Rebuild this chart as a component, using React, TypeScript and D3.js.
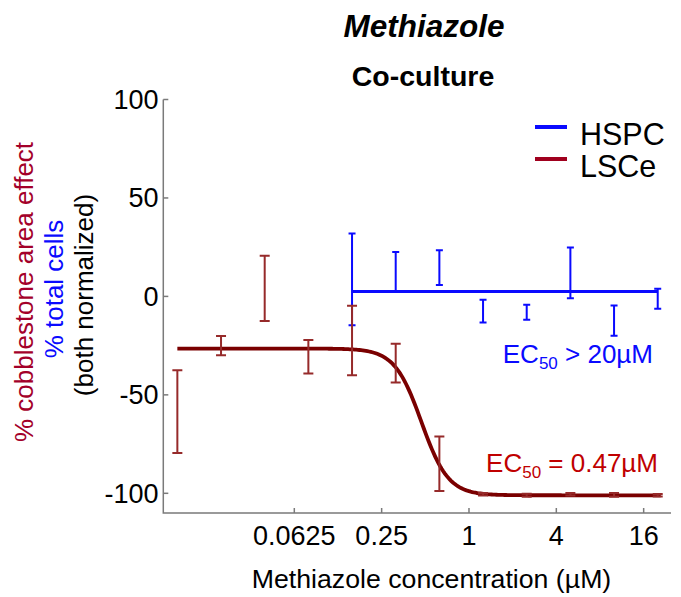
import React from "react";
import * as d3 from "d3";

// Two-fold dilution series (µM)
const doses = [20 / 2048, 20 / 1024, 20 / 512, 20 / 256, 20 / 128, 20 / 64, 20 / 32, 20 / 16, 20 / 8, 20 / 4, 20 / 2, 20];

// LSCe: % cobblestone area effect (mean ± error)
const lsceMean = [-58.5, -25, 4.1, -30.7, -22.4, -33.9, -85, -100.5, -101, -100.5, -100.8, -101];
const lsceErr = [21, 4.9, 16.6, 8.5, 17.7, 9.8, 13.8, 0.6, 0.8, 0.6, 1, 0.6];

// HSPC: % total cells, measured from 0.156 µM upward
const hspcDoses = doses.slice(4);
const hspcMean = [8.6, 12.5, 14.6, -7.5, -8, 12, -12.3, -1.2];
const hspcErr = [23.3, 10, 8.8, 5.8, 3.8, 12.9, 7.7, 5.1];

// Four-parameter logistic fits
const lsceFit = { top: -26.5, bottom: -101, ec50: 0.47, hill: 4.7 };
const hspcLevel = 2.5;

const xTicks = [0.0625, 0.25, 1, 4, 16];
const xTickLabels = ["0.0625", "0.25", "1", "4", "16"];
const yTicks = [-100, -50, 0, 50, 100];

const FONT = "'Liberation Sans', Arial, Helvetica, sans-serif";
const BLUE = "#0a0aff";
const DARK_RED = "#7a0000";
const BAR_RED = "#962a2a";
const AXIS = "#7a7a7a";

export default function App() {
  const x = d3.scaleLog().base(2).domain([2 ** -7, 2 ** 4.626]).range([163.3, 671]);
  const y = d3.scaleLinear().domain([-110, 100]).range([513, 99.5]);

  const logistic = (c: number) =>
    lsceFit.top + (lsceFit.bottom - lsceFit.top) / (1 + Math.pow(lsceFit.ec50 / c, lsceFit.hill));

  const curveXs = d3.range(0, 301).map((i) => {
    const lo = Math.log2(doses[0]);
    const hi = Math.log2(21);
    return 2 ** (lo + ((hi - lo) * i) / 300);
  });
  const curveLine = d3
    .line<number>()
    .x((c) => x(c))
    .y((c) => y(logistic(c)))
    .curve(d3.curveLinear);

  const errBar = (cx: number, m: number, e: number, cap: number) => {
    const px = x(cx);
    const t = y(m + e);
    const b = y(m - e);
    return `M${px},${t}V${b}M${px - cap / 2},${t}H${px + cap / 2}M${px - cap / 2},${b}H${px + cap / 2}`;
  };

  const [x0, x1] = x.range();
  const [yb, yt] = y.range();

  return (
    <svg
      width={681}
      height={597}
      style={{ position: "absolute", left: 0, top: 0, background: "#fff" }}
      fontFamily={FONT}
    >
      <rect width={681} height={597} fill="#fff" />

      {/* titles */}
      <text x={424} y={37} textAnchor="middle" fontSize={31.5} fontWeight="bold" fontStyle="italic">
        Methiazole
      </text>
      <text x={423} y={86} textAnchor="middle" fontSize={28.5} fontWeight="bold">
        Co-culture
      </text>

      {/* axes */}
      <g stroke={AXIS} strokeWidth={1.5} fill="none">
        <path d={`M${x0},${yt}V${yb}H${x1}`} />
        {yTicks.map((v) => (
          <path key={v} d={`M${x0},${y(v)}h5`} />
        ))}
        {xTicks.map((v) => (
          <path key={v} d={`M${x(v)},${yb}v-5`} />
        ))}
      </g>
      {yTicks.map((v) => (
        <text key={v} x={158.5} y={y(v)} dy="0.35em" textAnchor="end" fontSize={27} fill="#000">
          {v}
        </text>
      ))}
      {xTicks.map((v, i) => (
        <text key={v} x={x(v)} y={545} textAnchor="middle" fontSize={27} fill="#000">
          {xTickLabels[i]}
        </text>
      ))}

      {/* axis titles */}
      <text x={431.5} y={588} textAnchor="middle" fontSize={26.7} fill="#000">
        Methiazole concentration (µM)
      </text>
      <g fontSize={26} textAnchor="middle">
        <text transform="translate(33,292) rotate(-90)" fill="#a3002a">
          % cobblestone area effect
        </text>
        <text transform="translate(63,289) rotate(-90)" fill={BLUE}>
          % total cells
        </text>
        <text transform="translate(93,295) rotate(-90)" fill="#000">
          (both normalized)
        </text>
      </g>

      {/* HSPC */}
      <path
        d={`M${x(hspcDoses[0])},${y(hspcLevel)}H${x(hspcDoses[hspcDoses.length - 1])}`}
        stroke={BLUE}
        strokeWidth={3}
        fill="none"
      />
      {hspcDoses.map((c, i) => (
        <path key={c} d={errBar(c, hspcMean[i], hspcErr[i], 7)} stroke={BLUE} strokeWidth={2} fill="none" />
      ))}

      {/* LSCe */}
      <path d={curveLine(curveXs) || ""} stroke={DARK_RED} strokeWidth={3.8} fill="none" />
      {doses.map((c, i) => (
        <path key={c} d={errBar(c, lsceMean[i], lsceErr[i], 10)} stroke={BAR_RED} strokeWidth={2} fill="none" />
      ))}

      {/* EC50 annotations */}
      <text x={653} y={363} textAnchor="end" fontSize={26} fill={BLUE}>
        EC<tspan fontSize={17} dy={6}>50</tspan>
        <tspan dy={-6}> &gt; 20µM</tspan>
      </text>
      <text x={658} y={472} textAnchor="end" fontSize={26} fill="#c00000">
        EC<tspan fontSize={17} dy={6}>50</tspan>
        <tspan dy={-6}> = 0.47µM</tspan>
      </text>

      {/* legend */}
      <path d="M535,127H567" stroke={BLUE} strokeWidth={4} />
      <text x={580} y={145} fontSize={30.5} fill="#000">HSPC</text>
      <path d="M535,159H567" stroke="#a0001e" strokeWidth={4} />
      <text x={580} y={177} fontSize={30.5} fill="#000">LSCe</text>
    </svg>
  );
}
